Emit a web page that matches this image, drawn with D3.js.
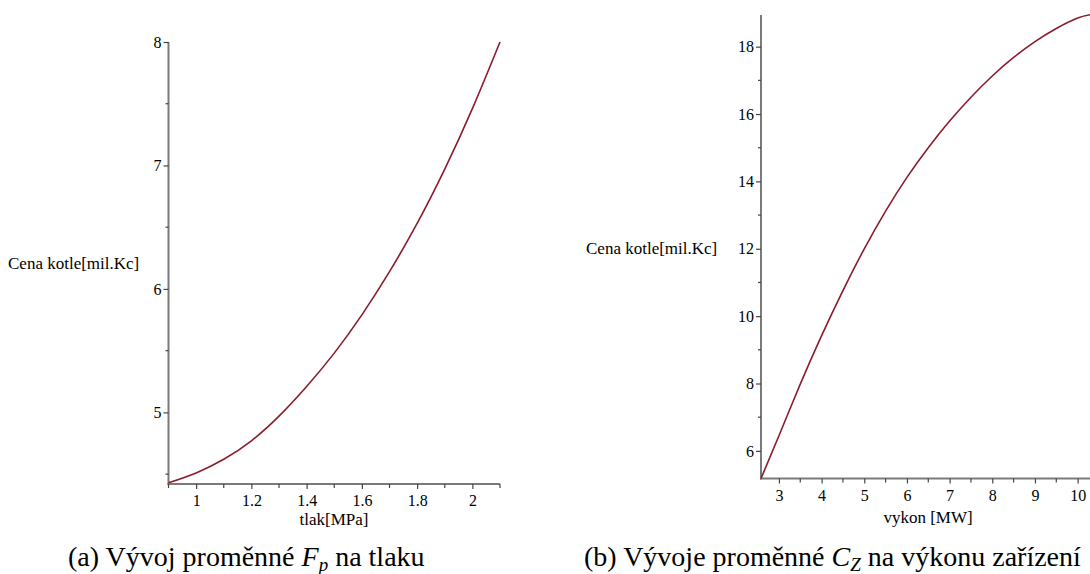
<!DOCTYPE html>
<html>
<head>
<meta charset="utf-8">
<script src="https://cdn.jsdelivr.net/npm/d3@7"></script>
<style>
  html, body { margin: 0; padding: 0; background: #fff; }
  svg { display: block; }
  text { font-family: "Liberation Serif", "Times New Roman", serif; fill: #000; }
</style>
</head>
<body>
<svg id="fig" width="1090" height="574"></svg>
<script>
// (a) boiler price vs. pressure
const pressure = [0.9, 1.0, 1.1, 1.2, 1.3, 1.4, 1.5, 1.6, 1.7, 1.8, 1.9, 2.0, 2.1];
const pricePressure = [4.43, 4.51, 4.62, 4.77, 4.97, 5.21, 5.48, 5.79, 6.14, 6.53, 6.97, 7.46, 8.0];
const pressureTicks = [1, 1.2, 1.4, 1.6, 1.8, 2];
const pressureMinor = [0.9, 1.1, 1.3, 1.5, 1.7, 1.9, 2.1];
const priceTicksA = [5, 6, 7, 8];
const priceMinorA = [4.5, 5.5, 6.5, 7.5];

// (b) boiler price vs. output power
const power = [2.58, 3, 3.5, 4, 4.5, 5, 5.5, 6, 6.5, 7, 7.5, 8, 8.5, 9, 9.5, 10, 10.3];
const pricePower = [5.18, 6.45, 7.98, 9.42, 10.76, 12.0, 13.12, 14.12, 15.0, 15.79, 16.5, 17.13, 17.68, 18.15, 18.54, 18.85, 18.95];
const powerTicks = [3, 4, 5, 6, 7, 8, 9, 10];
const powerMinor = [3.5, 4.5, 5.5, 6.5, 7.5, 8.5, 9.5];
const priceTicksB = [6, 8, 10, 12, 14, 16, 18];
const priceMinorB = [7, 9, 11, 13, 15, 17];

const yTitle = "Cena kotle[mil.Kc]";
const curveColor = "#8a1c2b";
const axisColor = "#7a7a7a";
const serif = "Liberation Serif";

const svg = d3.select("#fig");

function panel(cfg) {
  const g = svg.append("g");
  const x = d3.scaleLinear().domain(cfg.xDomain).range(cfg.xRange);
  const y = d3.scaleLinear().domain(cfg.yDomain).range(cfg.yRange);
  const x0 = cfg.xRange[0], yb = cfg.yRange[0];

  // axis lines
  g.append("line").attr("x1", x0).attr("x2", x0)
    .attr("y1", cfg.yRange[0] + 1).attr("y2", cfg.yRange[1])
    .attr("stroke", axisColor).attr("stroke-width", 2);
  g.append("line").attr("x1", x0 - 1).attr("x2", cfg.xRange[1])
    .attr("y1", yb).attr("y2", yb)
    .attr("stroke", axisColor).attr("stroke-width", 2);

  // x axis ticks and labels
  const xa = d3.axisBottom(x).tickValues(cfg.xTicks).tickSize(5).tickSizeOuter(0)
    .tickFormat(d3.format("")).tickPadding(6);
  const gx = g.append("g").attr("transform", `translate(0,${yb})`).call(xa)
    .attr("font-family", serif);
  gx.select(".domain").remove();
  gx.selectAll(".tick line").attr("stroke", "#444").attr("stroke-width", 1.2);
  gx.selectAll(".tick text").attr("font-size", 16).attr("fill", "#000");
  g.selectAll(".xminor").data(cfg.xMinor).join("line")
    .attr("x1", d => x(d)).attr("x2", d => x(d))
    .attr("y1", yb).attr("y2", yb + 4)
    .attr("stroke", "#444").attr("stroke-width", 1.2);

  // y axis ticks and labels
  const ya = d3.axisLeft(y).tickValues(cfg.yTicks).tickSize(5).tickSizeOuter(0)
    .tickFormat(d3.format("")).tickPadding(2);
  const gy = g.append("g").attr("transform", `translate(${x0},0)`).call(ya)
    .attr("font-family", serif);
  gy.select(".domain").remove();
  gy.selectAll(".tick line").attr("stroke", "#444").attr("stroke-width", 1.2);
  gy.selectAll(".tick text").attr("font-size", 16).attr("fill", "#000");
  g.selectAll(".yminor").data(cfg.yMinor).join("line")
    .attr("x1", x0 - 3).attr("x2", x0)
    .attr("y1", d => y(d)).attr("y2", d => y(d))
    .attr("stroke", "#444").attr("stroke-width", 1.2);

  // curve
  const line = d3.line().x(d => x(d[0])).y(d => y(d[1])).curve(d3.curveNatural);
  g.append("path").datum(d3.zip(cfg.xs, cfg.ys))
    .attr("d", line).attr("fill", "none")
    .attr("stroke", curveColor).attr("stroke-width", 1.6);

  // titles
  g.append("text").attr("x", cfg.xTitleX).attr("y", cfg.xTitleY)
    .attr("text-anchor", "middle").attr("font-size", 17).text(cfg.xTitle);
  g.append("text").attr("x", cfg.yTitleX).attr("y", cfg.yTitleY)
    .attr("font-size", 17).text(yTitle);
}

panel({
  xs: pressure, ys: pricePressure,
  xDomain: [0.9, 2.1], xRange: [168.5, 500],
  yDomain: [4.42, 8], yRange: [484, 42],
  xTicks: pressureTicks, xMinor: pressureMinor,
  yTicks: priceTicksA, yMinor: priceMinorA,
  xTitle: "tlak[MPa]", xTitleX: 334, xTitleY: 525,
  yTitleX: 8, yTitleY: 269
});

panel({
  xs: power, ys: pricePower,
  xDomain: [2.58, 10.29], xRange: [761, 1090],
  yDomain: [5.18, 18.94], yRange: [478.5, 15],
  xTicks: powerTicks, xMinor: powerMinor,
  yTicks: priceTicksB, yMinor: priceMinorB,
  xTitle: "vykon [MW]", xTitleX: 928, xTitleY: 523,
  yTitleX: 586, yTitleY: 254
});

// sub-figure captions
function caption(x0, parts) {
  const t = svg.append("text").attr("x", x0).attr("y", 566).attr("font-size", 28);
  parts.forEach(p => {
    const s = t.append("tspan").text(p.text);
    if (p.italic) s.attr("font-style", "italic");
    if (p.sub) s.attr("font-size", 19).attr("dy", 5);
    if (p.up) s.attr("dy", -5);
  });
}
caption(68, [
  { text: "(a) Vývoj proměnné " },
  { text: "F", italic: true },
  { text: "p", italic: true, sub: true },
  { text: " na tlaku", up: true }
]);
caption(584, [
  { text: "(b) Vývoje proměnné " },
  { text: "C", italic: true },
  { text: "Z", italic: true, sub: true },
  { text: " na výkonu zařízení", up: true }
]);
</script>
</body>
</html>
